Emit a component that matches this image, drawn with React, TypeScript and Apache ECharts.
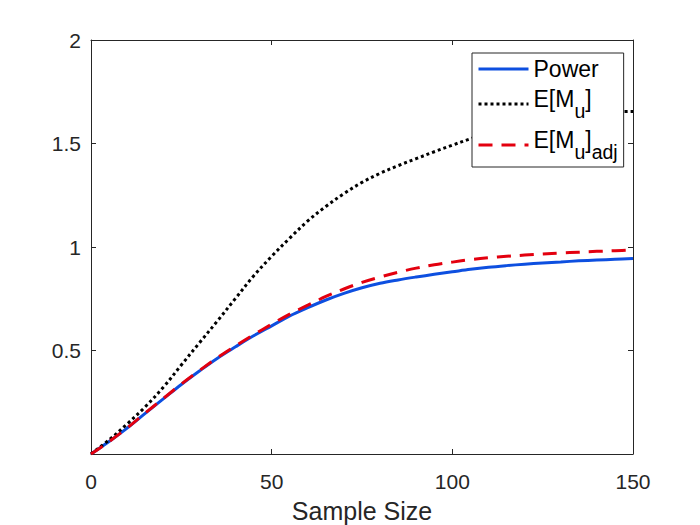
import React, { useEffect, useRef } from "react";
import * as echarts from "echarts";

const sampleSizes = [0, 5, 10, 15, 20, 25, 30, 35, 40, 45, 50, 55, 60, 65, 70, 75, 80, 85, 90, 95, 100, 105, 110, 115, 120, 125, 130, 135, 140, 145, 150];
const powerValues = [0, 0.06, 0.125, 0.196, 0.266, 0.336, 0.401, 0.463, 0.518, 0.571, 0.619, 0.667, 0.707, 0.744, 0.776, 0.803, 0.825, 0.841, 0.855, 0.868, 0.88, 0.892, 0.902, 0.91, 0.917, 0.923, 0.928, 0.933, 0.937, 0.941, 0.945];
const expectedMu = [0, 0.068, 0.145, 0.228, 0.322, 0.43, 0.537, 0.643, 0.752, 0.86, 0.955, 1.043, 1.126, 1.196, 1.258, 1.312, 1.356, 1.393, 1.427, 1.46, 1.492, 1.523, 1.553, 1.58, 1.602, 1.62, 1.633, 1.643, 1.649, 1.653, 1.655];
const expectedMuAdj = [0, 0.06, 0.126, 0.198, 0.268, 0.338, 0.403, 0.466, 0.522, 0.576, 0.627, 0.676, 0.719, 0.761, 0.797, 0.829, 0.855, 0.878, 0.898, 0.914, 0.927, 0.939, 0.948, 0.955, 0.961, 0.966, 0.971, 0.975, 0.979, 0.982, 0.986];
const seriesNames = ["Power", "E[M_u]", "E[M_u]_adj"];
const legendLabels: Record<string, string> = {
  "Power": "{m|Power}",
  "E[M_u]": "{m|E[M}{s|u}{m|]}",
  "E[M_u]_adj": "{m|E[M}{s|u}{m|]}{s|adj}",
};
const xLabel = "Sample Size";

const FONT = "'Liberation Sans', Arial, Helvetica, sans-serif";
const AXIS_COLOR = "#262626";

function pairs(ys: number[]) {
  return sampleSizes.map((x, i) => [x, ys[i]]);
}

export default function App() {
  const ref = useRef<HTMLDivElement>(null);
  useEffect(() => {
    if (!ref.current) return;
    const chart = echarts.init(ref.current, null, { renderer: "svg" });
    const axisCommon = {
      axisLine: { show: true, onZero: false, lineStyle: { color: AXIS_COLOR, width: 1 } },
      axisTick: { show: true, inside: true, length: 5, lineStyle: { color: AXIS_COLOR, width: 1 } },
      splitLine: { show: false },
    };
    chart.setOption({
      animation: false,
      backgroundColor: "#ffffff",
      textStyle: { fontFamily: FONT },
      grid: { left: 91, right: 67, top: 40, bottom: 71, containLabel: false, outerBoundsMode: "none" },
      xAxis: [
        {
          type: "value",
          min: 0,
          max: 150,
          interval: 50,
          position: "bottom",
          name: xLabel,
          nameLocation: "middle",
          nameGap: 44,
          nameTextStyle: { fontSize: 25, color: AXIS_COLOR, fontFamily: FONT },
          axisLabel: { show: true, fontSize: 21, color: AXIS_COLOR, margin: 17, fontFamily: FONT },
          ...axisCommon,
        },
        {
          type: "value",
          min: 0,
          max: 150,
          interval: 50,
          position: "top",
          axisLabel: { show: false },
          ...axisCommon,
        },
      ],
      yAxis: [
        {
          type: "value",
          min: 0,
          max: 2,
          interval: 0.5,
          position: "left",
          axisLabel: {
            show: true,
            fontSize: 21,
            color: AXIS_COLOR,
            margin: 10,
            fontFamily: FONT,
            formatter: (v: number) => (v === 0 ? "" : String(v)),
          },
          ...axisCommon,
        },
        {
          type: "value",
          min: 0,
          max: 2,
          interval: 0.5,
          position: "right",
          axisLabel: { show: false },
          ...axisCommon,
        },
      ],
      legend: {
        show: true,
        orient: "vertical",
        left: 472,
        top: 53,
        padding: [4, 6, 5, 5],
        itemWidth: 50,
        itemHeight: 14,
        itemGap: 7,
        backgroundColor: "#ffffff",
        borderColor: AXIS_COLOR,
        borderWidth: 1,
        borderRadius: 0,
        selectedMode: false,
        data: seriesNames,
        itemStyle: { opacity: 0, borderWidth: 0 },
        lineStyle: { width: 3 },
        formatter: (name: string) => legendLabels[name] || name,
        textStyle: {
          color: "#000000",
          fontFamily: FONT,
          fontSize: 23,
          rich: {
            m: { fontSize: 23, lineHeight: 24, verticalAlign: "top", color: "#000000", fontFamily: FONT },
            s: { fontSize: 19.5, lineHeight: 34, verticalAlign: "bottom", color: "#000000", fontFamily: FONT },
          },
        },
      },
      series: [
        {
          name: seriesNames[0],
          type: "line",
          data: pairs(powerValues),
          symbol: "none",
          smooth: 0.35,
          lineStyle: { color: "#0d4fe0", width: 3 },
          itemStyle: { color: "#0d4fe0" },
          z: 2,
        },
        {
          name: seriesNames[1],
          type: "line",
          data: pairs(expectedMu),
          symbol: "none",
          smooth: 0.35,
          lineStyle: { color: "#000000", width: 3, type: [3, 3], cap: "butt" },
          itemStyle: { color: "#000000" },
          z: 3,
        },
        {
          name: seriesNames[2],
          type: "line",
          data: pairs(expectedMuAdj),
          symbol: "none",
          smooth: 0.35,
          lineStyle: { color: "#e3000f", width: 3, type: [14, 9], cap: "butt" },
          itemStyle: { color: "#e3000f" },
          z: 4,
        },
      ],
    });
    return () => chart.dispose();
  }, []);
  return (
    <div
      ref={ref}
      style={{ position: "fixed", left: 0, top: 0, width: 700, height: 525, background: "#ffffff" }}
    />
  );
}
